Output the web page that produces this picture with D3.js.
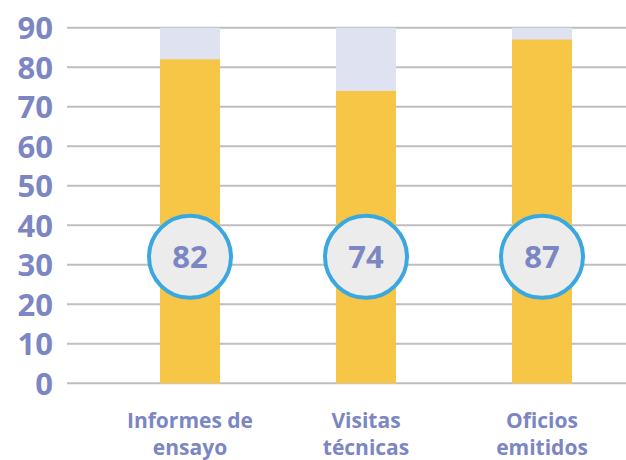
<!DOCTYPE html>
<html><head><meta charset="utf-8">
<script src="https://cdn.jsdelivr.net/npm/d3@7"></script>
<style>html,body{margin:0;padding:0;background:#fff;}</style>
</head><body>
<svg id="c" width="626" height="460"></svg>
<script>
const categories = [["Informes de","ensayo"],["Visitas","técnicas"],["Oficios","emitidos"]];
const values = [82, 74, 87];
const maxValue = [90, 90, 90];
const yTicks = [0,10,20,30,40,50,60,70,80,90];
const labelLevel = 32;

const svg = d3.select("#c");
const y = d3.scaleLinear().domain([0,90]).range([383.3,27.7]);
const x = d3.scalePoint().domain(d3.range(categories.length)).range([102,630]).padding(0.5);
const barW = 60;
const txt = "#7b86c3";
const font = "'Open Sans','Noto Sans',sans-serif";

// gridlines
svg.append("g").selectAll("line").data(yTicks).join("line")
  .attr("x1",67).attr("x2",626).attr("y1",d=>y(d)).attr("y2",d=>y(d))
  .attr("stroke","#bebebe").attr("stroke-width",2);

// y axis labels
const yAxis = d3.axisLeft(y).tickValues(yTicks).tickSize(0).tickPadding(0);
const ga = svg.append("g").attr("transform","translate(53,0)").call(yAxis);
ga.select(".domain").remove();
ga.selectAll("text").attr("fill",txt).attr("font-family",font).attr("font-weight",700)
  .attr("font-size",31).attr("dy","0.36em");

// background bars
svg.append("g").selectAll("rect").data(maxValue).join("rect")
  .attr("x",(d,i)=>x(i)-barW/2).attr("width",barW)
  .attr("y",d=>y(d)).attr("height",d=>y(0)-y(d)).attr("fill","#dfe2f1");
// value bars
svg.append("g").selectAll("rect").data(values).join("rect")
  .attr("x",(d,i)=>x(i)-barW/2).attr("width",barW)
  .attr("y",d=>y(d)).attr("height",d=>y(0)-y(d)).attr("fill","#f7c646");

// circles
const cg = svg.append("g").selectAll("g").data(values).join("g")
  .attr("transform",(d,i)=>`translate(${x(i)},${y(labelLevel)})`);
cg.append("circle").attr("r",41).attr("fill","#ececec").attr("stroke","#3aa8df").attr("stroke-width",4);
cg.append("text").text(d=>d).attr("text-anchor","middle").attr("dy","0.36em")
  .attr("fill",txt).attr("font-family",font).attr("font-weight",700).attr("font-size",31);

// x labels
const xl = svg.append("g").selectAll("text").data(categories).join("text")
  .attr("text-anchor","middle").attr("fill",txt).attr("font-family",font)
  .attr("font-weight",700).attr("font-size",21);
xl.selectAll("tspan").data((d,i)=>d.map(t=>({t,i}))).join("tspan")
  .attr("x",d=>x(d.i)).attr("y",(d,j)=>428+j*27).text(d=>d.t);
</script>
</body></html>
